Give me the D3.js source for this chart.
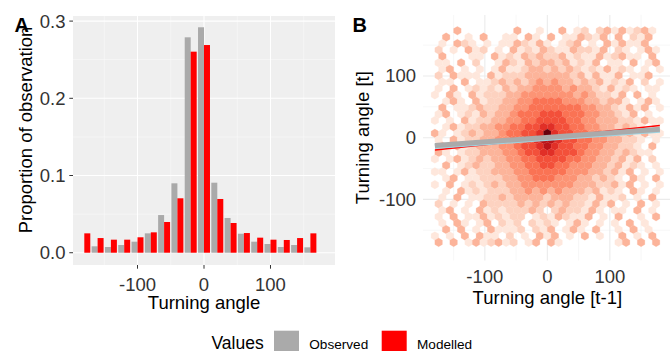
<!DOCTYPE html>
<html>
<head>
<meta charset="utf-8">
<style>
body { margin: 0; background: #fff; }
text { font-family: "Liberation Sans", Arial, sans-serif; }
</style>
</head>
<body>
<div id="chart"></div>
<script src="https://cdn.jsdelivr.net/npm/d3@7"></script>
<script>

// ---- panel A : distribution of turning angles (20 degree bins)
var binCentres = [-180, -160, -140, -120, -100, -80, -60, -40, -20, 0, 20, 40, 60, 80, 100, 120, 140, 160];
var observed = [0, 0.0083, 0.0074, 0.0100, 0.0143, 0.0251, 0.0488, 0.0899, 0.2790, 0.2920, 0.0907, 0.0450, 0.0246, 0.0143, 0.0113, 0.0074, 0.0100, 0.0070];
var modelled = [0.0251, 0.0190, 0.0169, 0.0169, 0.0200, 0.0264, 0.0398, 0.0705, 0.2604, 0.2690, 0.0696, 0.0385, 0.0255, 0.0195, 0.0169, 0.0165, 0.0190, 0.0251];
var xTicksA = [-100, 0, 100];
var yTicksA = [0, 0.1, 0.2, 0.3];

// ---- panel B : hexbin of turning angle [t] against [t-1]
// one string per hex row, top row first; digits are count levels (0 = empty)
var hexRows = [
	"0003000000 0300100301 2023131231 0",
	"0300103001 1031030113 2130302130",
	"0103210101 1321310123 0103131130 0",
	"2010312010 3121321132 2130210131",
	"0300011031 2132322312 1131231103 0",
	"1103020013 2132332312 1301103013",
	"0130101013 1123323232 1213121010 1",
	"2031110312 2233333323 1311301130",
	"0110301123 2323434332 3231213020 1",
	"1030121213 2334444343 3213121011",
	"1031031222 3344444443 4322130301 0",
	"0131031223 3445555444 3323310131",
	"0301123223 3445555555 4433213130 1",
	"1301213233 4555666555 4433213010",
	"1010312233 4455666655 4433322131 1",
	"0131223344 5566776655 4433232101",
	"3101232334 5566797665 5443323131 1",
	"1031223344 5567887665 5443322101",
	"0313123334 4566787665 5443322103 0",
	"3101223334 4566776665 4433232110",
	"1013123233 4455666655 4433231302 0",
	"0301232233 4455665544 4332312101",
	"1101312233 3445555544 4332313010 1",
	"0130112223 3445554443 3232103103",
	"1030121232 3344444443 3322313010 1",
	"0103121222 3343434333 2312103101",
	"0103011223 2333323332 2131120103 0",
	"2010103222 2323232322 1313010301",
	"0130103121 2223202322 1310110301 0",
	"1030113121 2201213211 3010300103",
	"0103101302 1202121013 1010103010 0",
	"0303010311 1202130131 0300103010",
	"1010303110 2010313010 3010030103 0",
	"3030131231 2013031000 0000130303"
];
var hexLevels = [1, 2, 3, 4, 5, 6, 7, 8, 9];
var hexShade = [0.08, 0.17, 0.27, 0.37, 0.47, 0.57, 0.67, 0.8, 1.0];
var fitX = [-180, 180];
var observedFit = [-12.5, 13.6];
var modelledFit = [-20, 19.8];
var ticksB = [-100, 0, 100];

var seriesNames = ["Observed", "Modelled"];
var seriesColours = ["#aaaaaa", "#ff0000"];

var svg = d3.select('#chart')
	.append('svg')
		.attr('width', 670)
		.attr('height', 351);

svg.append('rect')
	.attr('width', 670)
	.attr('height', 351)
	.attr('fill', '#fff');

// ================= panel A
var xA = d3.scaleLinear().domain([-197, 197]).range([73, 335]);
var yA = d3.scaleLinear().domain([-0.0159, 0.3066]).range([265, 16]);

var pA = svg.append('g');

pA.append('rect')
	.attr('x', xA.range()[0])
	.attr('y', yA.range()[1])
	.attr('width', xA.range()[1] - xA.range()[0])
	.attr('height', yA.range()[0] - yA.range()[1])
	.attr('fill', '#efefef');

// minor grid
[-150, -50, 50, 150].forEach(function(v) {
	pA.append('line')
		.attr('x1', xA(v)).attr('x2', xA(v))
		.attr('y1', yA.range()[0]).attr('y2', yA.range()[1])
		.attr('stroke', '#fafafa').attr('stroke-width', 0.6);
});
[0.05, 0.15, 0.25].forEach(function(v) {
	pA.append('line')
		.attr('x1', xA.range()[0]).attr('x2', xA.range()[1])
		.attr('y1', yA(v)).attr('y2', yA(v))
		.attr('stroke', '#fafafa').attr('stroke-width', 0.6);
});
// major grid
xTicksA.forEach(function(v) {
	pA.append('line')
		.attr('x1', xA(v)).attr('x2', xA(v))
		.attr('y1', yA.range()[0]).attr('y2', yA.range()[1])
		.attr('stroke', '#fff').attr('stroke-width', 1.1);
});
yTicksA.forEach(function(v) {
	pA.append('line')
		.attr('x1', xA.range()[0]).attr('x2', xA.range()[1])
		.attr('y1', yA(v)).attr('y2', yA(v))
		.attr('stroke', '#fff').attr('stroke-width', 1.1);
});

// bars, observed left and modelled right of each bin centre
var half = 9;
pA.selectAll('rect.obs')
	.data(binCentres)
	.enter().append('rect')
		.attr('class', 'obs')
		.attr('x', function(d) { return xA(d - half); })
		.attr('width', function(d) { return xA(d) - xA(d - half); })
		.attr('y', function(d, i) { return yA(observed[i]); })
		.attr('height', function(d, i) { return yA(0) - yA(observed[i]); })
		.attr('fill', seriesColours[0]);
pA.selectAll('rect.mod')
	.data(binCentres)
	.enter().append('rect')
		.attr('class', 'mod')
		.attr('x', function(d) { return xA(d); })
		.attr('width', function(d) { return xA(d + half) - xA(d); })
		.attr('y', function(d, i) { return yA(modelled[i]); })
		.attr('height', function(d, i) { return yA(0) - yA(modelled[i]); })
		.attr('fill', seriesColours[1]);

// axes A
yTicksA.forEach(function(v) {
	pA.append('line')
		.attr('x1', 69.3).attr('x2', 73)
		.attr('y1', yA(v)).attr('y2', yA(v))
		.attr('stroke', '#333').attr('stroke-width', 1);
	pA.append('text')
		.attr('x', 65.5).attr('y', yA(v)).attr('dy', '0.35em')
		.attr('text-anchor', 'end')
		.attr('font-size', 18.5).attr('fill', '#333')
		.text(d3.format('.1f')(v));
});
xTicksA.forEach(function(v) {
	pA.append('line')
		.attr('x1', xA(v)).attr('x2', xA(v))
		.attr('y1', 265).attr('y2', 268.7)
		.attr('stroke', '#333').attr('stroke-width', 1);
	pA.append('text')
		.attr('x', xA(v)).attr('y', 290.7)
		.attr('text-anchor', 'middle')
		.attr('font-size', 18.5).attr('fill', '#333')
		.text(v);
});
pA.append('text')
	.attr('x', (xA.range()[0] + xA.range()[1]) / 2).attr('y', 309)
	.attr('text-anchor', 'middle')
	.attr('font-size', 18.5)
	.text('Turning angle');

// the long y title runs off the top of its panel, where it is cut
svg.append('clipPath').attr('id', 'clipA')
	.append('rect').attr('x', 0).attr('y', 26).attr('width', 60).attr('height', 300);
pA.append('g')
	.attr('clip-path', 'url(#clipA)')
	.append('text')
		.attr('transform', 'translate(31.5,233.3) rotate(-90)')
		.attr('font-size', 18.5)
		.text('Proportion of observations');

svg.append('text')
	.attr('x', 14.5).attr('y', 31.7)
	.attr('font-size', 20).attr('font-weight', 'bold')
	.text('A');

// ================= panel B
var xB = d3.scaleLinear().domain([-199, 199]).range([423, 671.7]);
var yB = d3.scaleLinear().domain([-199, 199]).range([260.5, 14.9]);

var pB = svg.append('g');

[-150, -50, 50, 150].forEach(function(v) {
	pB.append('line')
		.attr('x1', xB(v)).attr('x2', xB(v))
		.attr('y1', yB.range()[0]).attr('y2', yB.range()[1])
		.attr('stroke', '#f2f2f2').attr('stroke-width', 0.6);
	pB.append('line')
		.attr('x1', xB.range()[0]).attr('x2', xB.range()[1])
		.attr('y1', yB(v)).attr('y2', yB(v))
		.attr('stroke', '#f2f2f2').attr('stroke-width', 0.6);
});
ticksB.forEach(function(v) {
	pB.append('line')
		.attr('x1', xB(v)).attr('x2', xB(v))
		.attr('y1', yB.range()[0]).attr('y2', yB.range()[1])
		.attr('stroke', '#ebebeb').attr('stroke-width', 1.1);
	pB.append('line')
		.attr('x1', xB.range()[0]).attr('x2', xB.range()[1])
		.attr('y1', yB(v)).attr('y2', yB(v))
		.attr('stroke', '#ebebeb').attr('stroke-width', 1.1);
});

// hex cells
var binW = 12;
var rowStep = binW * Math.sqrt(3) / 2;
var rad = binW / Math.sqrt(3);
var shade = d3.scaleLinear().domain(hexLevels).range(hexShade);
var fill = function(level) { return d3.interpolateReds(shade(level)); };

var cells = [];
hexRows.forEach(function(row, r) {
	var j = hexRows.length - r;
	var cy = -180 + j * rowStep;
	var x0 = -180 + (j % 2 ? binW / 2 : 0);
	row.replace(/\s/g, '').split('').forEach(function(c, i) {
		var level = +c;
		if (level > 0) cells.push({ x: x0 + i * binW, y: cy, level: level });
	});
});

function hexPath(d) {
	var pts = [
		[d.x, d.y + rad], [d.x + binW / 2, d.y + rad / 2], [d.x + binW / 2, d.y - rad / 2],
		[d.x, d.y - rad], [d.x - binW / 2, d.y - rad / 2], [d.x - binW / 2, d.y + rad / 2]
	];
	return 'M' + pts.map(function(p) { return xB(p[0]) + ',' + yB(p[1]); }).join('L') + 'Z';
}

pB.selectAll('path.hex')
	.data(cells)
	.enter().append('path')
		.attr('class', 'hex')
		.attr('d', hexPath)
		.attr('fill', function(d) { return fill(d.level); })
		.attr('stroke', function(d) { return fill(d.level); })
		.attr('stroke-width', 0.25);

// fitted lines
var line = d3.line()
	.x(function(d) { return xB(d[0]); })
	.y(function(d) { return yB(d[1]); });

pB.append('path')
	.attr('d', line(d3.zip(fitX, modelledFit)))
	.attr('fill', 'none').attr('stroke', seriesColours[1]).attr('stroke-width', 1.6);
pB.append('path')
	.attr('d', line(d3.zip(fitX, observedFit)))
	.attr('transform', 'translate(0,1)')
	.attr('fill', 'none').attr('stroke', '#9fd4e2').attr('stroke-width', 5);
pB.append('path')
	.attr('d', line(d3.zip(fitX, observedFit)))
	.attr('fill', 'none').attr('stroke', seriesColours[0]).attr('stroke-width', 5);

// axes B (no tick marks)
ticksB.forEach(function(v) {
	pB.append('text')
		.attr('x', 416).attr('y', yB(v)).attr('dy', '0.35em')
		.attr('text-anchor', 'end')
		.attr('font-size', 18.5).attr('fill', '#333')
		.text(v);
	pB.append('text')
		.attr('x', xB(v)).attr('y', 283.3)
		.attr('text-anchor', 'middle')
		.attr('font-size', 18.5).attr('fill', '#333')
		.text(v);
});
pB.append('text')
	.attr('x', xB(0)).attr('y', 303.5)
	.attr('text-anchor', 'middle')
	.attr('font-size', 18.5)
	.text('Turning angle [t-1]');
pB.append('text')
	.attr('transform', 'translate(369,' + yB(0) + ') rotate(-90)')
	.attr('text-anchor', 'middle')
	.attr('font-size', 18.5)
	.text('Turning angle [t]');

svg.append('text')
	.attr('x', 352.5).attr('y', 31.7)
	.attr('font-size', 20).attr('font-weight', 'bold')
	.text('B');

// ================= legend
var legend = svg.append('g');
legend.append('text')
	.attr('x', 211.5).attr('y', 349.3)
	.attr('font-size', 17.5)
	.text('Values');
var keyX = [274, 381.7];
seriesNames.forEach(function(name, i) {
	legend.append('rect')
		.attr('x', keyX[i]).attr('y', 330.7)
		.attr('width', 25).attr('height', 25)
		.attr('fill', seriesColours[i]);
	legend.append('text')
		.attr('x', keyX[i] + 35.3).attr('y', 349)
		.attr('font-size', 13.6)
		.text(name);
});

</script>
</body>
</html>
